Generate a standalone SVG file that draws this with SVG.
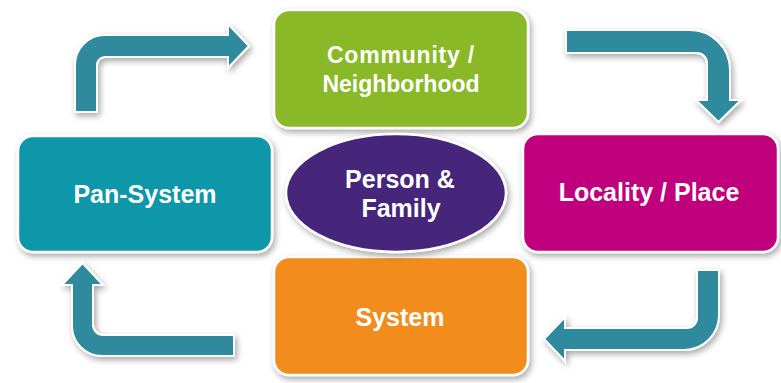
<svg xmlns="http://www.w3.org/2000/svg" width="781" height="383" viewBox="0 0 781 383">
<defs>
<filter id="sh" x="-20%" y="-20%" width="140%" height="150%">
<feDropShadow dx="2" dy="3" stdDeviation="3" flood-color="#000" flood-opacity="0.35"/>
</filter>
<style>
.box{stroke:#fff;stroke-width:2.5;filter:url(#sh)}
.arr{fill:#2E8A9C;stroke:#fff;stroke-width:2;stroke-linejoin:miter;filter:url(#sh)}
.t{font-family:"Liberation Sans",Arial,sans-serif;font-weight:bold;font-size:25px;fill:#fff;text-anchor:middle}
.s{font-size:23px}
</style>
</defs>
<rect width="781" height="383" fill="#fff"/>
<g id="connectors">
<path class="arr" d="M75,112 L75,65 A30,30 0 0 1 105,35 L228,35 L228,24 L249,46 L228,68 L228,57 L105,57 A8,8 0 0 0 97,65 L97,112 Z"/>
<path class="arr" d="M566,30 L690,30 A40,40 0 0 1 730,70 L730,100 L741,100 L718.5,122 L696,100 L707,100 L707,63 A10,10 0 0 0 697,53 L566,53 Z"/>
<path class="arr" d="M697,270 L719,270 L719,315 A35,35 0 0 1 684,350 L565,350 L565,361 L544,339 L565,317 L565,328 L687,328 A10,10 0 0 0 697,318 Z"/>
<path class="arr" d="M234,335 L234,356 L102,356 A30,30 0 0 1 72,326 L72,285 L62,285 L82.5,263 L103,285 L93,285 L93,325 A10,10 0 0 0 103,335 Z"/>
</g>
<g id="community">
<rect class="box" x="274" y="10" width="254" height="118" rx="15" fill="#89B928"/>
<text class="t s" x="401" y="63" letter-spacing="0.8">Community /</text>
<text class="t s" x="401" y="92">Neighborhood</text>
</g>
<g id="pansystem">
<rect class="box" x="18" y="136" width="254" height="116" rx="15" fill="#0F97A8"/>
<text class="t" x="145" y="203">Pan-System</text>
</g>
<g id="locality">
<rect class="box" x="523" y="134" width="255" height="118" rx="15" fill="#C0047B"/>
<text class="t" x="649" y="201">Locality / Place</text>
</g>
<g id="system">
<rect class="box" x="274" y="257" width="254" height="118" rx="15" fill="#F28C1E"/>
<text class="t" x="400" y="326">System</text>
</g>
<g id="person">
<ellipse class="box" cx="396" cy="193" rx="110" ry="59" fill="#44257A"/>
<text class="t" x="400" y="188">Person &amp;</text>
<text class="t" x="401" y="217">Family</text>
</g>
</svg>
